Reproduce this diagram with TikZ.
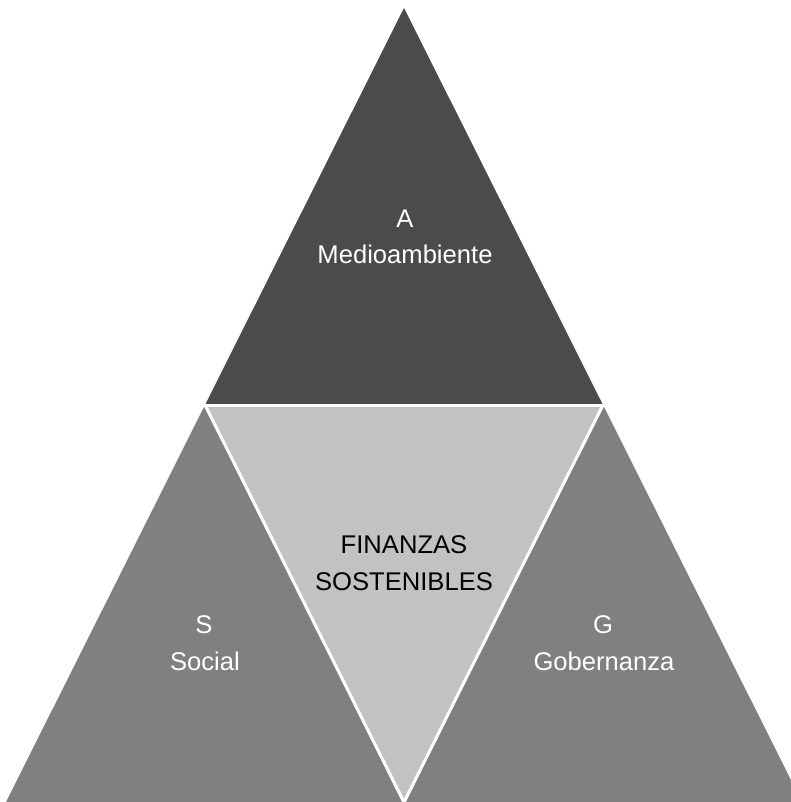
\documentclass[tikz,border=0pt]{standalone}
\usepackage{fontspec}
\setmainfont{Liberation Sans}
\begin{document}
\begin{tikzpicture}[x=1pt,y=-1pt,
  seam/.style={draw=white,line width=3pt,line join=miter},
  label/.style={anchor=base,inner sep=0pt,font=\fontsize{25.6}{30}\selectfont},
  light/.style={label,text=white},
  dark/.style={label,text=black}]
  \definecolor{topgray}{HTML}{4B4B4B}
  \definecolor{sidegray}{HTML}{808080}
  \definecolor{centergray}{HTML}{C2C2C2}
  \useasboundingbox (0,0) rectangle (791,802);
  \clip (0,0) rectangle (791,802);
  % corner points of the pyramid
  \coordinate (apex) at (404,8);
  \coordinate (midL) at (205,405);
  \coordinate (midR) at (603,405);
  \coordinate (botL) at (4,806);
  \coordinate (botM) at (404,802);
  \coordinate (botR) at (804,806);
  \coordinate (baseM) at (404,806);
  % the four triangles
  \fill[topgray] (apex) -- (midR) -- (midL) -- cycle;
  \fill[sidegray] (midL) -- (baseM) -- (botL) -- cycle;
  \fill[sidegray] (midR) -- (botR) -- (baseM) -- cycle;
  \fill[centergray] (midL) -- (midR) -- (botM) -- cycle;
  % white seams between the pieces
  \draw[seam] (midL) -- (midR);
  \draw[seam] (midL) -- (botM) -- (midR);
  % labels
  \node[light] (aLetter) at (405,227) {A};
  \node[light] (aName) at (405,263) {Medioambiente};
  \node[dark] (fLine1) at (404,553) {FINANZAS};
  \node[dark] (fLine2) at (404,590) {SOSTENIBLES};
  \node[light] (sLetter) at (204,633) {S};
  \node[light] (sName) at (205,670) {Social};
  \node[light] (gLetter) at (603,633) {G};
  \node[light] (gName) at (604,670) {Gobernanza};
\end{tikzpicture}
\end{document}
